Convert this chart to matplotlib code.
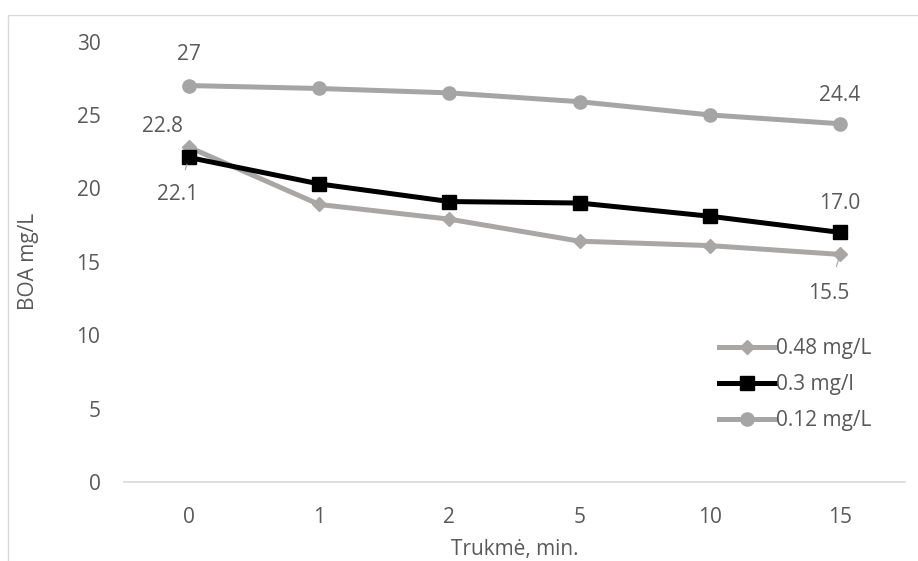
import matplotlib.pyplot as plt
from matplotlib.patches import Rectangle

# duomenys
categories = ['0', '1', '2', '5', '10', '15']
s048 = [22.8, 18.9, 17.9, 16.4, 16.1, 15.5]
s03 = [22.1, 20.3, 19.1, 19.0, 18.1, 17.0]
s012 = [27.0, 26.8, 26.5, 25.9, 25.0, 24.4]
labels = ['0.48 mg/L', '0.3 mg/l', '0.12 mg/L']

plt.rcParams['font.family'] = ['Open Sans', 'DejaVu Sans']
txt = '#595959'
fs = 15

fig = plt.figure(figsize=(9.18, 5.61), dpi=100)
# remelis aplink diagrama
fig.patches.append(Rectangle((8 / 918, -0.1), 1.2, 1 - 15 / 561 + 0.1,
                             transform=fig.transFigure, fill=False,
                             edgecolor='#d9d9d9', linewidth=1))
ax = fig.add_axes([124 / 918, 1 - 482 / 561, 781 / 918, 440.5 / 561])

x = range(len(categories))
ax.plot(x, s048, color='#a9a6a6', lw=3.6, marker='D', ms=7, label=labels[0])
ax.plot(x, s03, color='#000000', lw=3.6, marker='s', ms=10.5, label=labels[1])
ax.plot(x, s012, color='#a5a5a5', lw=3.6, marker='o', ms=9.5, label=labels[2])

ax.set_xlim(-0.5, 5.5)
ax.set_ylim(0, 30)
ax.set_yticks(range(0, 31, 5))
ax.set_xticks(list(x))
ax.set_xticklabels(categories)
for s in ['top', 'right', 'left']:
    ax.spines[s].set_visible(False)
ax.spines['bottom'].set_color('#d9d9d9')
ax.spines['bottom'].set_linewidth(1.2)
ax.tick_params(length=0, labelsize=fs, colors=txt, pad=18)
ax.tick_params(axis='y', pad=17)
ax.set_ylabel('BOA mg/L', fontsize=fs, color=txt, labelpad=27)
ax.set_xlabel('Trukmė, min.', fontsize=fs, color=txt, labelpad=8)

# duomenu zymes
ax.annotate('27', (0, s012[0]), xytext=(0, 15), textcoords='offset points',
            ha='center', va='bottom', fontsize=fs, color=txt)
ax.annotate('24.4', (5, s012[5]), xytext=(0, 13), textcoords='offset points',
            ha='center', va='bottom', fontsize=fs, color=txt)
ax.annotate('22.8', (0, s048[0]), xytext=(-19.5, 7), textcoords='offset points',
            ha='center', va='bottom', fontsize=fs, color=txt)
ax.annotate('22.1', (0, s03[0]), xytext=(-8.5, -27), textcoords='offset points',
            ha='center', va='center', fontsize=fs, color=txt,
            arrowprops=dict(arrowstyle='-', color='#a5a5a5', lw=0.8,
                            shrinkA=9, shrinkB=5))
ax.annotate('17.0', (5, s03[5]), xytext=(0, 13), textcoords='offset points',
            ha='center', va='bottom', fontsize=fs, color=txt)
ax.annotate('15.5', (5, s048[5]), xytext=(-8, -28), textcoords='offset points',
            ha='center', va='center', fontsize=fs, color=txt,
            arrowprops=dict(arrowstyle='-', color='#a5a5a5', lw=0.8,
                            shrinkA=10, shrinkB=4))

leg = ax.legend(loc='upper left', bbox_to_anchor=(0.748, 0.35), frameon=False,
                fontsize=fs, handlelength=2.7, handletextpad=0.05,
                labelspacing=0.72, borderpad=0)
for t in leg.get_texts():
    t.set_color(txt)

fig.savefig('out.png', dpi=100)
